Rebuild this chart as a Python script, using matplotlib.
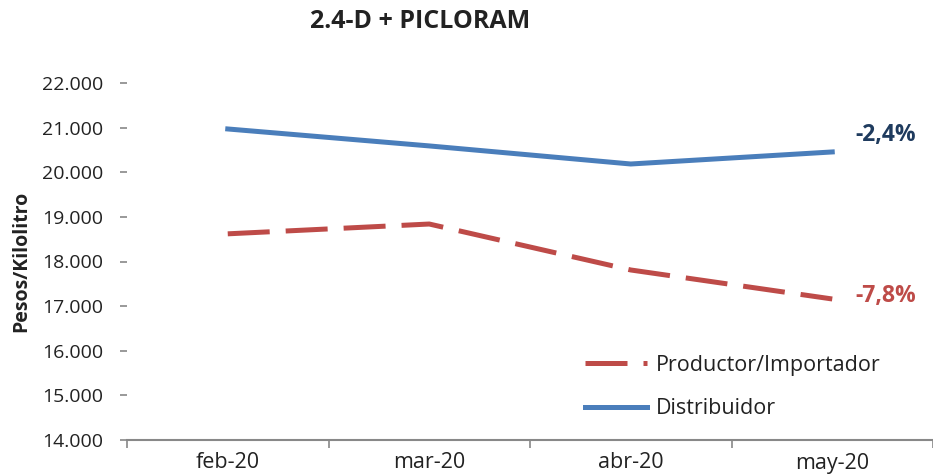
import matplotlib
matplotlib.use("Agg")
import matplotlib.pyplot as plt
from matplotlib.ticker import FuncFormatter

months = ["feb-20", "mar-20", "abr-20", "may-20"]
productor = [18620, 18840, 17810, 17160]
distribuidor = [20970, 20590, 20185, 20455]
var_labels = ["-2,4%", "-7,8%"]
yticks = [14000, 15000, 16000, 17000, 18000, 19000, 20000, 21000, 22000]

plt.rcParams['font.family'] = ['Open Sans', 'DejaVu Sans']

fig = plt.figure(figsize=(9.33, 4.74), dpi=100)
ax = fig.add_axes([127/933, 34/474, 1 - 127/933, 357/474])

x = list(range(len(months)))
ax.plot(x, productor, color="#BE4B48", lw=3.6, dashes=(8.4, 3.2),
        label="Productor/Importador", solid_capstyle="butt", dash_capstyle="butt")
ax.plot(x, distribuidor, color="#4A7EBB", lw=3.6, label="Distribuidor")

ax.set_xlim(-0.5, 3.5 - 6/203)
ax.set_ylim(14000, 22000)
ax.set_yticks(yticks)
ax.yaxis.set_major_formatter(FuncFormatter(lambda v, p: f"{int(v):,}".replace(",", ".")))
ax.set_xticks(x)
ax.set_xticklabels(months)
ax.set_xticks([i - 0.5 for i in range(len(months) + 1)], minor=True)
ax.tick_params(axis="x", which="major", length=0, pad=9, labelsize=15.5, colors="#222222")
ax.tick_params(axis="x", which="minor", length=6, width=1.2, color="#888888")
ax.tick_params(axis="y", length=5, width=1.2, color="#888888", pad=12, labelsize=14, labelcolor="#222222")

for s in ["top", "right", "left"]:
    ax.spines[s].set_visible(False)
ax.spines["bottom"].set_color("#888888")
ax.spines["bottom"].set_linewidth(1.5)

ax.set_ylabel("Pesos/Kilolitro", fontsize=14, fontweight="bold", labelpad=8, color="#222222")
fig.text(420/933, 1 - 21/474, "2.4-D + PICLORAM", ha="center", va="center",
         fontsize=18, fontweight="bold", color="#222222")

ax.annotate(var_labels[0], xy=(x[-1], distribuidor[-1]), xytext=(17, 12), textcoords="offset points",
            ha="left", va="center", fontsize=16.5, fontweight="bold", color="#1F3B5E")
ax.annotate(var_labels[1], xy=(x[-1], productor[-1]), xytext=(17, 2), textcoords="offset points",
            ha="left", va="center", fontsize=16.5, fontweight="bold", color="#BE4B48")

leg = ax.legend(loc="upper left", bbox_to_anchor=((576 - 127)/806, (440 - 346)/357),
                frameon=False, fontsize=15.5, handlelength=2.9, labelspacing=1.05,
                handletextpad=0.4, borderaxespad=0)
for t in leg.get_texts():
    t.set_color("#222222")

fig.savefig("out.png", dpi=100)
